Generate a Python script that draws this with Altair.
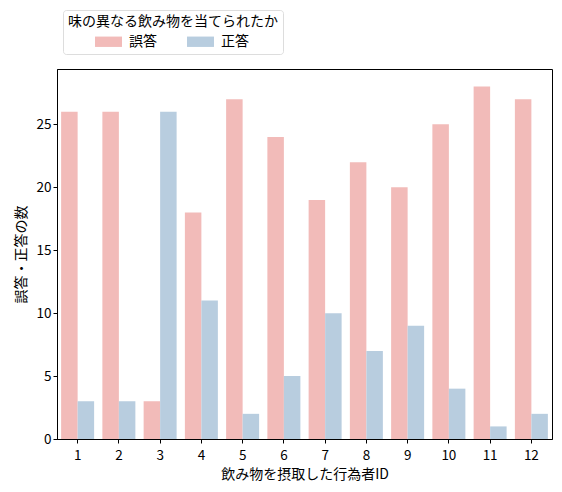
import altair as alt
import pandas as pd

ids = [str(i) for i in range(1, 13)]
wrong = [26, 26, 3, 18, 27, 24, 19, 22, 20, 25, 28, 27]
right = [3, 3, 26, 11, 2, 5, 10, 7, 9, 4, 1, 2]
series = ["誤答", "正答"]
colors = ["#f2bbb9", "#b8cddf"]

rows = []
for i, w, r in zip(ids, wrong, right):
    rows.append({"id": i, "kind": series[0], "n": w})
    rows.append({"id": i, "kind": series[1], "n": r})
df = pd.DataFrame(rows)

font = "Noto Sans CJK JP"

chart = alt.Chart(df).mark_bar().encode(
    x=alt.X("id:N", sort=ids, title="飲み物を摂取した行為者ID",
            scale=alt.Scale(paddingInner=0.2, paddingOuter=0.1),
            axis=alt.Axis(labelAngle=0, labelPadding=5, titlePadding=6)),
    xOffset=alt.XOffset("kind:N", sort=series),
    y=alt.Y("n:Q", title="誤答・正答の数",
            scale=alt.Scale(domain=[0, 29.4], nice=False),
            axis=alt.Axis(values=[0, 5, 10, 15, 20, 25], grid=False, titlePadding=8)),
    color=alt.Color("kind:N", sort=series,
                    scale=alt.Scale(domain=series, range=colors),
                    legend=alt.Legend(title="味の異なる飲み物を当てられたか",
                                      orient="none", legendX=6, legendY=-59,
                                      direction="horizontal",
                                      symbolType="M-1.3,-0.5L1.3,-0.5L1.3,0.5L-1.3,0.5Z",
                                      symbolSize=430, symbolStrokeWidth=0,
                                      titleAnchor="middle", titleFontWeight="normal",
                                      titleFontSize=14, labelFontSize=14,
                                      titleLimit=400, titlePadding=2,
                                      columnPadding=30, labelOffset=10,
                                      strokeColor="#dddddd", fillColor="white",
                                      cornerRadius=3, padding=5)),
).properties(
    width=495, height=370,
    autosize=alt.AutoSizeParams(type="none"),
    padding={"left": 49, "top": 61, "right": 2, "bottom": 45},
).configure_view(
    stroke="black", strokeWidth=1
).configure_axis(
    labelFont=font, titleFont=font, labelFontSize=13.5, titleFontSize=14,
    titleFontWeight="normal", labelColor="black", titleColor="black",
    domainColor="black", tickColor="black", tickSize=4,
).configure_legend(
    labelFont=font, titleFont=font, labelColor="black", titleColor="black"
)

chart.save("out.html", embed_options={"renderer": "svg", "actions": False})
